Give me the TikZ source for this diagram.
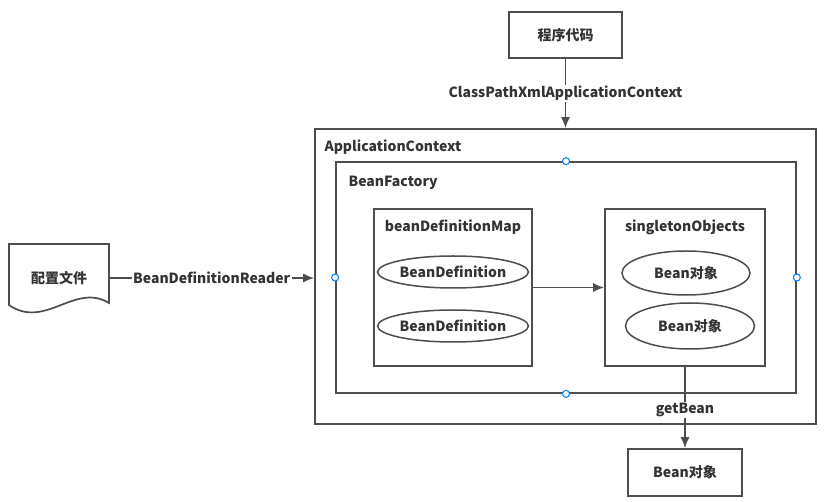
\documentclass[tikz,border=0pt]{standalone}
\usepackage{fontspec}
\setmainfont{Noto Sans CJK SC}
\usetikzlibrary{arrows.meta,shapes.geometric}
\definecolor{linegray}{RGB}{77,77,77}
\definecolor{textgray}{RGB}{51,51,51}
\definecolor{handleblue}{RGB}{0,122,255}
\tikzset{
	box/.style={draw=linegray, line width=1.7pt, inner sep=0pt},
	oval/.style={ellipse, draw=linegray, line width=1.5pt, inner sep=0pt},
	edge/.style={draw=linegray, line width=1.7pt, -{Latex[length=11pt,width=9pt]}},
	edgetext/.style={fill=white, inner sep=1.5pt},
	handle/.style={draw=handleblue, fill=white, line width=1pt}
}

\begin{document}
\begin{tikzpicture}[x=1pt, y=-1pt, font=\fontsize{14}{16}\selectfont\bfseries, text=textgray]
		\useasboundingbox (0,0) rectangle (836,502);

		\node[box, minimum width=113pt, minimum height=46pt] (code) at (565.5,35) {程序代码};
		\node[box, minimum width=501pt, minimum height=295pt] (appctx) at (565.5,276.5) {};
		\node[anchor=west] (appctxname) at (321,147) {ApplicationContext};
		\node[box, minimum width=460pt, minimum height=231pt] (factory) at (566,277.5) {};
		\node[anchor=west] (factoryname) at (345,183) {BeanFactory};

		\node[box, minimum width=158pt, minimum height=157pt] (defmap) at (453,287.5) {};
		\node (defmapname) at (453,227) {beanDefinitionMap};
		\node[oval, minimum width=127pt, minimum height=32pt] (def1) at (453,272) {BeanDefinition};
		\node[oval, minimum width=127pt, minimum height=32pt] (def2) at (453,326) {BeanDefinition};

		\node[box, minimum width=160pt, minimum height=157pt] (singleton) at (685,287.5) {};
		\node (singletonname) at (685,227) {singletonObjects};
		\node[oval, minimum width=128pt, minimum height=44pt] (bean1) at (686,273) {Bean对象};
		\node[oval, minimum width=129pt, minimum height=46pt] (bean2) at (690,326) {Bean对象};

		\node[box, minimum width=114pt, minimum height=47pt] (result) at (685,472.5) {Bean对象};
		\node[minimum width=100pt, minimum height=60pt] (cfg) at (59,278) {配置文件};
		\draw[linegray, line width=1.7pt] (9,244) -- (109,244) -- (109,303) .. controls (75,282) and (45,330) .. (9,305) -- cycle;

		% connectors
		\draw[edge] (code.south) -- (appctx.north) node[midway, edgetext] (loadlabel) {ClassPathXmlApplicationContext};
		\draw[edge] (cfg.east) -- (cfg.east -| appctx.west) node[midway, edgetext] (readlabel) {BeanDefinitionReader};
		\draw[edge] (defmap.east) -- (singleton.west);
		\draw[edge] (singleton.south) -- (result.north) node[pos=0.53, edgetext] (getlabel) {getBean};

		% selection handles
		\foreach \side in {north,south,east,west}
			\draw[handle] (factory.\side) circle (3.5pt);
	\end{tikzpicture}
\end{document}
